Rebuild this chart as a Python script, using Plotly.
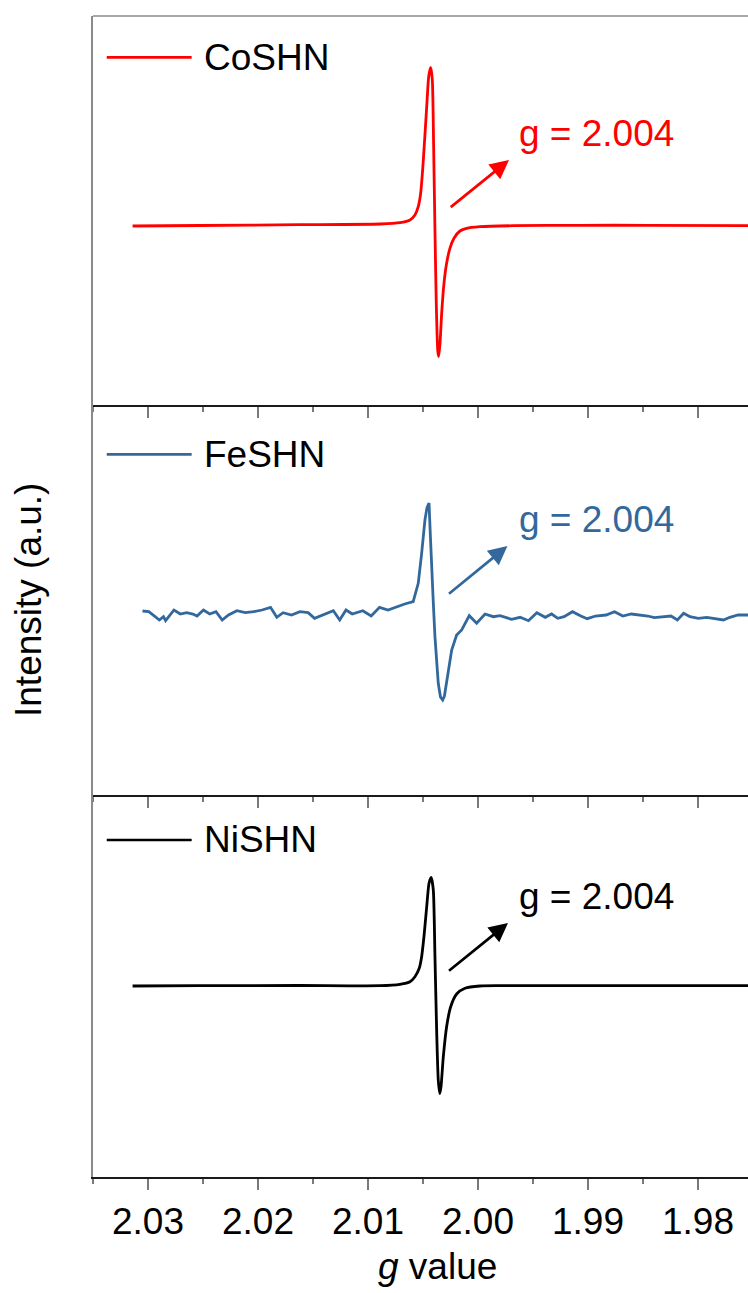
import plotly.graph_objects as go

# ---------------- data (g value, intensity in a.u.) ----------------
g_co = [2.0314, 2.0253, 2.0162, 2.0089, 2.0071, 2.00618, 2.00573, 2.00543, 2.00521, 2.00503,
        2.00485, 2.00466, 2.00448, 2.0043, 2.00415, 2.00403, 2.00391, 2.00379, 2.00366, 2.00357,
        2.00345, 2.0033, 2.00309, 2.00285, 2.00255, 2.00218, 2.00164, 2.00103, 1.99982, 1.99679,
        1.99073, 1.98466, 1.9750]
i_co = [0, 0.5, 1.3, 2, 3.3, 6, 11, 19.3, 32.7, 56,
        86, 119.3, 149.3, 158.5, 146, 79.3, -4, -77.3, -124, -130.5,
        -117.3, -87.3, -57.3, -37.3, -22.3, -12.3, -5, -2.3, -0.7, 0.3,
        0.7, 0.7, 0.3]

g_fe = [2.0305, 2.02993, 2.02935, 2.02897, 2.02859, 2.0284, 2.02764, 2.02706, 2.02649, 2.02592,
        2.02554, 2.02496, 2.02439, 2.02382, 2.02325, 2.02268, 2.02192, 2.02115, 2.02039, 2.01963,
        2.01886, 2.01829, 2.01772, 2.01695, 2.01619, 2.01544, 2.01486, 2.0141, 2.01315, 2.01257,
        2.012, 2.01143, 2.01047, 2.00971, 2.00895, 2.00818, 2.00743, 2.00666, 2.00589,
        2.00543, 2.00512, 2.00482, 2.00464, 2.00445, 2.00433, 2.00421, 2.00406, 2.00391, 2.00361,
        2.00341, 2.00321, 2.00305, 2.00285, 2.00239, 2.00194, 2.00148, 2.00079, 2.00012, 1.99936,
        1.99861, 1.998,
        1.9977, 1.99694, 1.99617, 1.99541, 1.99465, 1.99388, 1.99331, 1.99274, 1.99217, 1.99141,
        1.99065, 1.99007, 1.98931, 1.98835, 1.98759, 1.98683, 1.98606, 1.98511, 1.98455, 1.98397,
        1.98321, 1.98245, 1.98187, 1.9813, 1.98073, 1.97996, 1.9792, 1.97844, 1.97768, 1.9771,
        1.97635, 1.97546, 1.9750]
i_fe = [1, 0.3, -4.7, -8, -4.7, -8.7, 2, -2, -0.7, -2,
        -4, 2, -2, 0.3, -8, -3, 1.3, -0.7, 0.3, 2,
        4.7, -5.3, -0.7, -3, 0.3, -0.7, -6.3, -3, 1.3, -8,
        2, -2, 1.3, -4, 4.7, 2, 5.3, 8, 10.3,
        28.7, 58.7, 92, 104, 109, 77, 42, 9, -24.7, -71.3,
        -85, -88, -84, -71.3, -38, -23, -18, -3.7, -11.3, -2,
        -4.7, -3.7,
        -4.7, -7.3, -5.3, -8.7, -0.7, -5.3, -2, -6.3, -4.7, 0.3,
        -4, -6.7, -4, -3, 0.3, -4, -2, -3, -4, -5.7,
        -4.7, -4, -8, -1.3, -4.7, -6.3, -5.3, -6.3, -8, -5.3,
        -3, -3, -3]

g_ni = [2.0314, 2.0253, 2.0162, 2.0089, 2.0071, 2.00618, 2.00573, 2.00534, 2.00512, 2.00491,
        2.00466, 2.00445, 2.00425, 2.00406, 2.00391, 2.00375, 2.00361, 2.00348, 2.00336, 2.00315,
        2.00285, 2.00248, 2.00194, 2.00118, 1.99982, 1.998, 1.9907, 1.9847, 1.9750]
i_ni = [0, 0.3, 0.5, 0.3, 1.7, 4.3, 9.3, 17.7, 29.3, 49.3,
        79.3, 102.7, 108.5, 96, 29.3, -47.3, -94, -107.5, -100.7, -70.7,
        -40.7, -20.7, -8, -2.3, 0, 0.3, 0.3, 0.3, 0.3]

names = ["CoSHN", "FeSHN", "NiSHN"]
tick_vals = [2.03, 2.02, 2.01, 2.00, 1.99, 1.98]
tick_text = ["2.03", "2.02", "2.01", "2.00", "1.99", "1.98"]
minor_vals = [2.035, 2.025, 2.015, 2.005, 1.995, 1.985, 1.975]
annot_text = "g = 2.004"

# ---------------- styling ----------------
FONT = "Liberation Sans, Arial, sans-serif"
FS = 37
colors = ["#FF0000", "#32689C", "#000000"]
x_range = [2.035, 1.97545]

panels = [
    dict(g=g_co, i=i_co, shape="spline", yr=[-179, 210], dom=[0.66494, 1.0],
         leg_i=168.7, ann_i=93, tail=(2.00261, 17.7), head=(1.99718, 66)),
    dict(g=g_fe, i=i_fe, shape="linear", yr=[-183, 207], dom=[0.32903, 0.66494],
         leg_i=157.7, ann_i=93, tail=(2.00277, 17), head=(1.99732, 66)),
    dict(g=g_ni, i=i_ni, shape="spline", yr=[-191, 191], dom=[0.0, 0.32903],
         leg_i=146, ann_i=89, tail=(2.00277, 14), head=(1.99727, 63)),
]

fig = go.Figure()
annotations = []
shapes = []
for k, p in enumerate(panels):
    sfx = "" if k == 0 else str(k + 1)
    xr, yr = "x" + sfx, "y" + sfx
    assert len(p["g"]) == len(p["i"])
    fig.add_trace(go.Scatter(
        x=p["g"], y=p["i"], mode="lines", name=names[k],
        line=dict(color=colors[k], width=2.8, shape=p["shape"], smoothing=0.6),
        xaxis=xr, yaxis=yr, showlegend=False, hoverinfo="skip"))

    bottom = (k == 2)
    fig.update_layout(**{
        "xaxis" + sfx: dict(
            range=x_range, anchor=yr, showline=True, linecolor="#1a1a1a", linewidth=1.5,
            ticks="outside", ticklen=11, tickwidth=1.5, tickcolor="#7a7a7a",
            tickmode="array", tickvals=tick_vals, ticktext=tick_text,
            showticklabels=bottom, tickfont=dict(family=FONT, size=FS, color="#000"),
            minor=dict(tickmode="array", tickvals=minor_vals, ticks="outside", ticklen=5,
                       tickwidth=1.5, tickcolor="#7a7a7a", showgrid=False),
            showgrid=False, zeroline=False,
            **({} if k == 0 else {"matches": "x"})),
        "yaxis" + sfx: dict(
            domain=p["dom"], range=p["yr"], showline=True, linecolor="#8a8a8a", linewidth=1.5,
            ticks="", showticklabels=False, showgrid=False, zeroline=False),
    })

    # legend sample line + label
    shapes.append(dict(type="line", xref=xr, yref=yr, x0=2.03375, x1=2.02603,
                       y0=p["leg_i"], y1=p["leg_i"], line=dict(color=colors[k], width=2.7)))
    annotations.append(dict(x=2.0251, y=p["leg_i"], xref=xr, yref=yr, text=names[k],
                            showarrow=False, xanchor="left", yanchor="middle",
                            font=dict(family=FONT, size=FS, color="#000")))
    # g = 2.004 label and arrow
    annotations.append(dict(x=1.99645, y=p["ann_i"], xref=xr, yref=yr, text=annot_text,
                            showarrow=False, xanchor="left", yanchor="middle",
                            font=dict(family=FONT, size=FS, color=colors[k])))
    annotations.append(dict(x=p["head"][0], y=p["head"][1], ax=p["tail"][0], ay=p["tail"][1],
                            xref=xr, yref=yr, axref=xr, ayref=yr, text="", showarrow=True,
                            arrowhead=2, arrowsize=1.4, arrowwidth=2.7, arrowcolor=colors[k]))

# frame top line
shapes.append(dict(type="line", xref="paper", yref="paper", x0=0, x1=1, y0=1, y1=1,
                   line=dict(color="#8a8a8a", width=1.5)))

# axis titles
annotations.append(dict(x=(437 - 93) / 655, y=(1177 - 1266) / 1161, xref="paper", yref="paper",
                        text="<i>g</i> value", showarrow=False, xanchor="center", yanchor="middle",
                        font=dict(family=FONT, size=FS, color="#000")))
annotations.append(dict(x=(28 - 93) / 655, y=(1177 - 600) / 1161, xref="paper", yref="paper",
                        text="Intensity (a.u.)", showarrow=False, textangle=-90,
                        xanchor="center", yanchor="middle",
                        font=dict(family=FONT, size=FS, color="#000")))

fig.update_layout(
    width=748, height=1293,
    margin=dict(l=93, r=0, t=16, b=116, pad=0),
    paper_bgcolor="white", plot_bgcolor="white",
    annotations=annotations, shapes=shapes,
    font=dict(family=FONT, size=FS, color="#000"),
)

fig.write_html("out.html")
